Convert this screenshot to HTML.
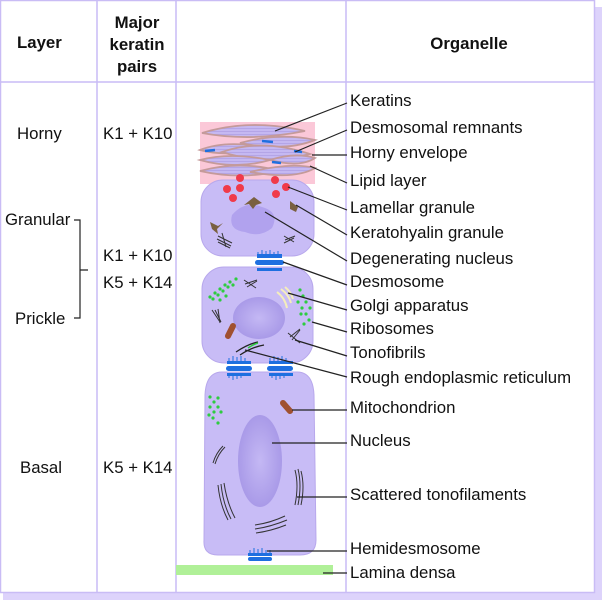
<!DOCTYPE html>
<html><head><meta charset="utf-8"><style>
html,body{margin:0;padding:0;background:#fff;}
svg{display:block;}
text{font-family:"Liberation Sans",sans-serif;font-size:16.8px;fill:#111;}
.b{font-weight:bold;}
</style></head><body>
<svg width="602" height="600" viewBox="0 0 602 600">
<defs>
<radialGradient id="nuc" cx="0.5" cy="0.5" r="0.5"><stop offset="0" stop-color="#c4b8f4"/><stop offset="1" stop-color="#a99ae8"/></radialGradient>
<pattern id="str" width="4" height="3" patternUnits="userSpaceOnUse"><rect width="4" height="3" fill="#c5b8f2"/><line x1="0" y1="2.5" x2="4" y2="2.5" stroke="#a898e0" stroke-width="0.6"/></pattern>
</defs>
<rect x="594" y="7" width="8" height="593" fill="#ddd3fb"/>
<rect x="3" y="592" width="599" height="8" fill="#ddd3fb"/>
<rect x="0.5" y="0.5" width="594" height="592" fill="none" stroke="#c9bcf5" stroke-width="1.5"/>
<line x1="97" y1="0" x2="97" y2="592" stroke="#c9bcf5" stroke-width="1.5"/>
<line x1="176" y1="0" x2="176" y2="592" stroke="#c9bcf5" stroke-width="1.5"/>
<line x1="346" y1="0" x2="346" y2="592" stroke="#c9bcf5" stroke-width="1.5"/>
<line x1="0" y1="82" x2="594" y2="82" stroke="#c9bcf5" stroke-width="1.5"/>
<text x="17" y="48" class="b">Layer</text>
<text x="137" y="28" class="b" text-anchor="middle">Major</text>
<text x="137" y="50" class="b" text-anchor="middle">keratin</text>
<text x="137" y="72" class="b" text-anchor="middle">pairs</text>
<text x="469" y="49" class="b" text-anchor="middle">Organelle</text>
<text x="17" y="139">Horny</text>
<text x="5" y="225">Granular</text>
<text x="15" y="324">Prickle</text>
<text x="20" y="473">Basal</text>
<path d="M74 220H80V318H74M80 270H88" fill="none" stroke="#222" stroke-width="1.2"/>
<text x="103" y="139">K1 + K10</text>
<text x="103" y="261">K1 + K10</text>
<text x="103" y="288">K5 + K14</text>
<text x="103" y="473">K5 + K14</text>
<!-- horny layer -->
<rect x="200" y="122" width="115" height="62" fill="#fbc8d8"/>
<g fill="url(#str)" stroke="#c49a9a" stroke-width="1.8">
<path d="M202 133Q250 118 305 131Q250 142 202 133Z"/>
<path d="M240 143Q280 132 315 140Q285 152 240 143Z"/>
<path d="M200 150Q225 140 262 147Q230 158 200 150Z"/>
<path d="M222 152Q262 138 310 154Q265 166 222 152Z"/>
<path d="M200 160Q230 152 270 160Q235 170 200 160Z"/>
<path d="M270 160Q295 152 315 158Q300 168 270 160Z"/>
<path d="M200 171Q240 160 280 171Q240 180 200 171Z"/>
<path d="M250 172Q290 162 315 168Q295 180 250 172Z"/>
</g>
<g stroke="#1e6fe0" stroke-width="2.5"><line x1="262" y1="141" x2="273" y2="142"/><line x1="205" y1="151" x2="215" y2="150"/><line x1="294" y1="151" x2="302" y2="152"/><line x1="272" y1="162" x2="281" y2="163"/></g>
<rect x="201" y="180" width="113" height="76" rx="22" fill="#c8bcf6" stroke="#b8a8ec"/>
<path d="M232 215 Q245 200 262 207 Q280 212 272 228 Q260 238 245 232 Q228 230 232 215Z" fill="#b1a2ee"/>
<g fill="#f03a4a"><circle cx="240" cy="178" r="4"/><circle cx="275" cy="180" r="4"/><circle cx="227" cy="189" r="4"/><circle cx="240" cy="188" r="4"/><circle cx="286" cy="187" r="4"/><circle cx="233" cy="198" r="4"/><circle cx="276" cy="194" r="4"/></g>
<g fill="#7a6040"><path d="M254 197l8 6-6 2-3 4-4-5-5 1z"/><path d="M290 201l8 6-2 5-6-3z"/><path d="M210 222l8 4 5-3-6 6 1 5-6-5z"/></g>
<g stroke="#333" stroke-width="1"><path d="M218 236l14 7M217 239l14 7M218 242l12 6M222 233l4 14"/><path d="M284 236l10 6M285 240l10-4M284 243l10-5"/></g>
<path d="M258 256v-4M262 256v-6M266 256v-5M270 256v-6M274 256v-4M278 256v-5" stroke="#1e6fe0"/>
<rect x="257" y="254" width="25" height="4" fill="#1e6fe0"/>
<rect x="255" y="260" width="29" height="5" rx="2.5" fill="#1e6fe0"/>
<rect x="202" y="267" width="111" height="96" rx="22" fill="#c8bcf6" stroke="#b8a8ec"/>
<rect x="257" y="268" width="25" height="3" fill="#1e6fe0"/>
<ellipse cx="259" cy="318" rx="26" ry="21" fill="url(#nuc)"/>
<g fill="#2ecc40"><circle cx="210" cy="297" r="1.6"/><circle cx="215" cy="293" r="1.6"/><circle cx="220" cy="289" r="1.6"/><circle cx="225" cy="285" r="1.6"/><circle cx="230" cy="282" r="1.6"/><circle cx="213" cy="299" r="1.6"/><circle cx="218" cy="295" r="1.6"/><circle cx="223" cy="291" r="1.6"/><circle cx="228" cy="287" r="1.6"/><circle cx="233" cy="285" r="1.6"/><circle cx="220" cy="300" r="1.6"/><circle cx="226" cy="296" r="1.6"/><circle cx="236" cy="279" r="1.6"/><circle cx="300" cy="290" r="1.6"/><circle cx="303" cy="296" r="1.6"/><circle cx="306" cy="302" r="1.6"/><circle cx="302" cy="308" r="1.6"/><circle cx="306" cy="314" r="1.6"/><circle cx="309" cy="320" r="1.6"/><circle cx="298" cy="302" r="1.6"/><circle cx="301" cy="314" r="1.6"/><circle cx="304" cy="324" r="1.6"/><circle cx="310" cy="308" r="1.6"/></g>
<g stroke="#f5eebb" stroke-width="2" fill="none"><path d="M277 292q8 6 10 16"/><path d="M281 289q8 6 10 14"/><path d="M285 287q6 5 8 12"/></g>
<g stroke="#333" stroke-width="1"><path d="M244 280l12 8M245 284l12-4M247 287l10-6"/><path d="M212 310l8 12M215 310l6 12M218 309l2 14"/><path d="M290 337l10-8M292 340l8-10M288 333l12 10"/></g>
<path d="M228 336l5-10" stroke="#a05030" stroke-width="6" stroke-linecap="round"/>
<path d="M236 352q12-8 22-10M240 355q12-8 24-10" stroke="#222" stroke-width="1.3" fill="none"/>
<path d="M248 348q6-4 10-5" stroke="#2ecc40" stroke-width="1.5" fill="none"/>
<g stroke="#1e6fe0"><path d="M229 363v-5M233 363v-7M237 363v-6M241 363v-7M245 363v-5M270 363v-5M274 363v-7M278 363v-6M282 363v-7M286 363v-5"/></g>
<rect x="227" y="361" width="24" height="3" fill="#1e6fe0"/><rect x="269" y="361" width="24" height="3" fill="#1e6fe0"/>
<rect x="226" y="366" width="26" height="5" rx="2.5" fill="#1e6fe0"/><rect x="267" y="366" width="26" height="5" rx="2.5" fill="#1e6fe0"/>
<path d="M222 372H297Q313 372 314 395L316 540Q316 555 300 555H218Q203 555 204 540L205 395Q206 372 222 372Z" fill="#c8bcf6" stroke="#b8a8ec"/>
<rect x="227" y="373" width="24" height="3" fill="#1e6fe0"/><rect x="269" y="373" width="24" height="3" fill="#1e6fe0"/>
<g stroke="#1e6fe0"><path d="M229 373v5M233 373v7M237 373v6M241 373v5M272 373v5M276 373v7M280 373v6M284 373v5"/></g>
<ellipse cx="260" cy="461" rx="22" ry="46" fill="url(#nuc)"/>
<g fill="#2ecc40"><circle cx="210" cy="397" r="1.6"/><circle cx="214" cy="402" r="1.6"/><circle cx="210" cy="407" r="1.6"/><circle cx="214" cy="412" r="1.6"/><circle cx="218" cy="398" r="1.6"/><circle cx="218" cy="407" r="1.6"/><circle cx="213" cy="418" r="1.6"/><circle cx="218" cy="423" r="1.6"/><circle cx="221" cy="412" r="1.6"/><circle cx="209" cy="415" r="1.6"/></g>
<path d="M283 403l7 8" stroke="#a05030" stroke-width="6" stroke-linecap="round"/>
<g stroke="#333" stroke-width="1" fill="none"><path d="M213 463q3-10 10-17M215 464q3-10 10-17"/><path d="M218 485q2 20 10 35M221 484q2 20 10 35M224 483q3 20 11 35"/><path d="M255 525q15 -2 30-9M255 529q15-2 32-9M256 533q15-2 30-8"/><path d="M295 470q4 15 0 35M298 469q4 16 0 36M301 471q4 15 0 34"/></g>
<path d="M250 555v-5M254 555v-7M258 555v-6M262 555v-7M266 555v-5M270 555v-5" stroke="#1e6fe0"/>
<rect x="248" y="553" width="24" height="3" fill="#1e6fe0"/>
<rect x="248" y="557" width="24" height="4" rx="2" fill="#1e6fe0"/>
<rect x="176" y="565" width="157" height="10" fill="#b0f098"/>
<g stroke="#222" stroke-width="1.2">
<line x1="275" y1="131" x2="347" y2="103"/>
<line x1="295" y1="152" x2="347" y2="130"/>
<line x1="312" y1="155" x2="347" y2="155"/>
<line x1="310" y1="166" x2="347" y2="183"/>
<line x1="288" y1="187" x2="347" y2="210"/>
<line x1="296" y1="205" x2="347" y2="235"/>
<line x1="265" y1="212" x2="347" y2="261"/>
<line x1="283" y1="262" x2="347" y2="285"/>
<line x1="288" y1="293" x2="347" y2="310"/>
<line x1="312" y1="322" x2="347" y2="332"/>
<line x1="295" y1="340" x2="347" y2="356"/>
<line x1="245" y1="350" x2="347" y2="377"/>
<line x1="292" y1="410" x2="347" y2="410"/>
<line x1="272" y1="443" x2="347" y2="443"/>
<line x1="297" y1="497" x2="347" y2="497"/>
<line x1="267" y1="551" x2="347" y2="551"/>
<line x1="323" y1="573" x2="347" y2="573"/>
</g>
<g>
<text x="350" y="106">Keratins</text>
<text x="350" y="133">Desmosomal remnants</text>
<text x="350" y="158">Horny envelope</text>
<text x="350" y="186">Lipid layer</text>
<text x="350" y="213">Lamellar granule</text>
<text x="350" y="238">Keratohyalin granule</text>
<text x="350" y="264">Degenerating nucleus</text>
<text x="350" y="287">Desmosome</text>
<text x="350" y="311">Golgi apparatus</text>
<text x="350" y="334">Ribosomes</text>
<text x="350" y="358">Tonofibrils</text>
<text x="350" y="383">Rough endoplasmic reticulum</text>
<text x="350" y="413">Mitochondrion</text>
<text x="350" y="446">Nucleus</text>
<text x="350" y="500">Scattered tonofilaments</text>
<text x="350" y="554">Hemidesmosome</text>
<text x="350" y="578">Lamina densa</text>
</g>
</svg>
</body></html>
